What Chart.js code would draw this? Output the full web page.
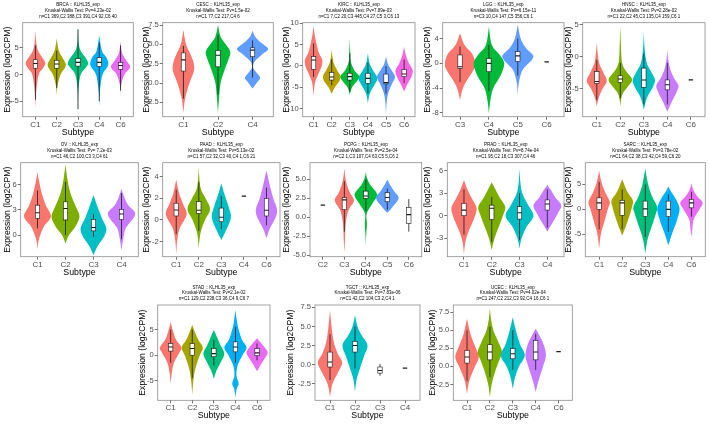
<!DOCTYPE html>
<html>
<head>
<meta charset="utf-8">
<script src="https://cdn.jsdelivr.net/npm/chart.js@4.4.0/dist/chart.umd.min.js"></script>
<style>
  html, body { margin: 0; padding: 0; background: #fff; }
  #wrap { position: relative; width: 709px; height: 425px; overflow: hidden; }
  #wrap canvas { position: absolute; }
</style>
</head>
<body>
<div id="wrap"></div>
<script>
// ---- data ----
// box = [whisker low, q1, median, q3, whisker high]; shape = [[value, width in subtype units], ...]

const brcaTitle = ["BRCA :: KLHL35_exp", "Kruskal-Wallis Test: Pv=4.23e-02", "n=C1 369,C2 388,C3 391,C4 92,C6 40"];
const brcaCats = ["C1", "C2", "C3", "C4", "C6"];
const brcaRange = [-7.9, 9.75];
const brcaTicks = [-5, 0, 5];
const brcaBox = [[-4.7, 1.2, 2.1, 2.8, 5.5], [-2.5, 1.2, 2.0, 2.7, 4.5], [-6.5, 1.6, 2.3, 3.0, 8.5], [-5, 1.5, 2.3, 3.2, 6], [-3, 1.0, 1.7, 2.3, 5.5]];
const brcaShape = [
  [[-6.1, 0], [-3, 0.08], [0, 0.3], [1.2, 0.7], [2.2, 0.92], [3.3, 0.6], [4.5, 0.25], [6, 0.08], [8.3, 0]],
  [[-3.8, 0], [-2, 0.08], [0, 0.35], [1.2, 0.75], [2, 0.85], [3, 0.6], [4.5, 0.2], [6.8, 0]],
  [[-7.2, 0], [-3, 0.04], [0, 0.25], [1.5, 0.8], [2.2, 0.95], [3.2, 0.7], [4.5, 0.25], [6, 0.06], [9, 0]],
  [[-6.3, 0], [-3, 0.06], [0, 0.3], [1.4, 0.75], [2.2, 0.85], [3.3, 0.65], [4.5, 0.25], [7.3, 0]],
  [[-4.2, 0], [-2, 0.06], [0, 0.35], [1, 0.8], [1.6, 0.9], [2.5, 0.6], [4, 0.15], [6.2, 0]],
];

const cescTitle = ["CESC :: KLHL35_exp", "Kruskal-Wallis Test: Pv=1.5e-02", "n=C1 77,C2 217,C4 6"];
const cescCats = ["C1", "C2", "C4"];
const cescRange = [-4.35, 7.8];
const cescTicks = [-2.5, 0, 2.5, 5, 7.5];
const cescBox = [[-2.0, 1.55, 3.0, 3.9, 4.8], [-1.5, 2.1, 3.6, 4.2, 6.2], [0.7, 3.4, 4.25, 4.55, 5.5]];
const cescShape = [
  [[-3.9, 0], [-2, 0.1], [0, 0.35], [1.5, 0.6], [2.5, 0.6], [3.5, 0.45], [5, 0.15], [6.85, 0]],
  [[-3.9, 0], [-2, 0.06], [0, 0.15], [1.5, 0.35], [3, 0.6], [4, 0.71], [5, 0.45], [6, 0.15], [7.5, 0]],
  [[-0.7, 0], [0.2, 0.3], [0.7, 0.44], [1.3, 0.25], [2, 0.03], [2.8, 0.12], [3.7, 0.55], [4.4, 0.9], [5.2, 0.5], [6, 0.15], [6.75, 0]],
];

const kircTitle = ["KIRC :: KLHL35_exp", "Kruskal-Wallis Test: Pv=7.89e-03", "n=C1 7,C2 20,C3 445,C4 27,C5 3,C6 13"];
const kircCats = ["C1", "C2", "C3", "C4", "C5", "C6"];
const kircRange = [-11.9, 10.15];
const kircTicks = [-10, -5, 0, 5, 10];
const kircBox = [[-2.6, -0.8, 1.4, 2.2, 5.3], [-4.5, -3.3, -2.6, -1.5, 1.6], [-6, -3.3, -2.5, -1.7, 3], [-6.5, -4.1, -2.9, -1.7, 0.8], [-6.5, -4.2, -3.9, -1.9, 0], [-4, -2.5, -1.9, -0.8, 1.5]];
const kircShape = [
  [[-7, 0], [-4, 0.15], [-2, 0.5], [0, 0.9], [1.5, 0.95], [3, 0.6], [5, 0.35], [7, 0.15], [9.4, 0]],
  [[-6.6, 0], [-5, 0.35], [-3.5, 0.85], [-2.3, 0.95], [-1, 0.6], [0.5, 0.25], [2, 0.1], [3.75, 0]],
  [[-6.8, 0], [-5, 0.25], [-3.5, 0.8], [-2.4, 1.05], [-1, 0.5], [1, 0.12], [3, 0.06], [6.5, 0]],
  [[-8.75, 0], [-6.5, 0.2], [-4.5, 0.7], [-2.9, 1.05], [-1.2, 0.6], [0.5, 0.2], [3, 0]],
  [[-11.1, 0], [-8, 0.1], [-6, 0.3], [-4, 0.7], [-2.5, 1.0], [-1, 0.6], [0.5, 0.2], [2.2, 0]],
  [[-6, 0], [-4.5, 0.3], [-2.5, 0.8], [-1, 0.95], [0.5, 0.55], [2.5, 0.2], [4.5, 0]],
];

const lggTitle = ["LGG :: KLHL35_exp", "Kruskal-Wallis Test: Pv=6.15e-11", "n=C3 10,C4 147,C5 356,C6 1"];
const lggCats = ["C3", "C4", "C5", "C6"];
const lggRange = [-8.6, 6.55];
const lggTicks = [-8, -4, 0, 4];
const lggBox = [[-3, -0.8, -0.55, 1.35, 2.7], [-4.5, -1.35, 0, 0.8, 3], [-2, 0.3, 1.2, 1.9, 4], [0.25, 0.25, 0.25, 0.25, 0.25]];
const lggShape = [
  [[-5.9, 0], [-4, 0.2], [-2.5, 0.55], [-1, 0.95], [0, 1.05], [1.5, 0.85], [3, 0.3], [4.85, 0]],
  [[-8.1, 0], [-6, 0.1], [-4, 0.3], [-2, 0.8], [0, 1.06], [1.5, 0.7], [3, 0.2], [5.9, 0]],
  [[-5.1, 0], [-3, 0.08], [-1, 0.35], [0.5, 0.95], [1.3, 1.05], [2.5, 0.55], [4, 0.2], [6.2, 0]],
  [],
];

const hnscTitle = ["HNSC :: KLHL35_exp", "Kruskal-Wallis Test: Pv=2.28e-02", "n=C1 22,C2 45,C3 135,C4 159,C6 1"];
const hnscCats = ["C1", "C2", "C3", "C4", "C6"];
const hnscRange = [-9.4, 5.3];
const hnscTicks = [-5, 0, 5];
const hnscBox = [[-6.8, -4.2, -3.9, -2.35, -0.5], [-6.5, -4.05, -3.5, -3.0, -1], [-7.5, -4.8, -3.65, -1.8, 0.5], [-7.5, -5.2, -4.4, -3.65, -1], [-3.65, -3.65, -3.65, -3.65, -3.65]];
const hnscShape = [
  [[-7.8, 0], [-6.5, 0.15], [-5, 0.5], [-3.8, 0.85], [-2.5, 0.55], [-1, 0.2], [0.5, 0.08], [2.1, 0]],
  [[-7.8, 0], [-6, 0.15], [-4.8, 0.6], [-3.6, 1.0], [-2.3, 0.5], [-1, 0.15], [1.5, 0.06], [4.8, 0]],
  [[-8.3, 0], [-6.5, 0.25], [-5, 0.7], [-3.7, 0.95], [-2.3, 0.6], [-1, 0.25], [1, 0.08], [3.9, 0]],
  [[-8.6, 0], [-7, 0.4], [-5.5, 0.8], [-4.5, 0.94], [-3.3, 0.55], [-2, 0.25], [-0.5, 0.08], [1.05, 0]],
  [],
];

const ovTitle = ["OV :: KLHL35_exp", "Kruskal-Wallis Test: Pv= 7.2e-03", "n=C1 46,C2 100,C3 3,C4 61"];
const ovCats = ["C1", "C2", "C3", "C4"];
const ovRange = [-2.57, 8.6];
const ovTicks = [0, 3, 6];
const ovBox = [[0.8, 2.0, 2.65, 3.55, 5.3], [0, 1.8, 3.15, 3.95, 6.3], [-0.2, 0.5, 0.9, 1.85, 2.5], [-0.5, 1.85, 2.5, 3.05, 5]];
const ovShape = [
  [[-1.7, 0], [-0.5, 0.1], [1, 0.45], [2.2, 0.96], [3.5, 0.6], [5, 0.3], [6.5, 0.1], [7.5, 0]],
  [[-1, 0], [0, 0.25], [1, 0.7], [2.2, 1.0], [3.5, 0.7], [5, 0.35], [6.5, 0.15], [8.4, 0]],
  [[-2.4, 0], [-1.3, 0.3], [-0.2, 0.75], [0.8, 0.92], [2, 0.6], [3.3, 0.3], [4.75, 0]],
  [[-1.8, 0], [-0.5, 0.12], [0.8, 0.3], [2, 0.85], [2.7, 0.96], [3.5, 0.5], [4.5, 0.2], [5.5, 0]],
];

const paadTitle = ["PAAD :: KLHL35_exp", "Kruskal-Wallis Test: Pv=5.13e-02", "n=C1 57,C2 32,C3 40,C4 1,C6 21"];
const paadCats = ["C1", "C2", "C3", "C4", "C6"];
const paadRange = [-3.4, 5.3];
const paadTicks = [-2, 0, 2, 4];
const paadBox = [[-1.3, 0.37, 0.92, 1.55, 2.8], [-1, 0.6, 0.9, 1.7, 3.5], [-0.85, -0.15, 0.25, 1.1, 2.2], [2.2, 2.2, 2.2, 2.2, 2.2], [-0.5, 0.37, 0.9, 2.0, 3.0]];
const paadShape = [
  [[-3.2, 0], [-2, 0.08], [-0.8, 0.3], [0.5, 0.92], [1.5, 0.6], [2.5, 0.25], [3.75, 0]],
  [[-2.6, 0], [-1.2, 0.15], [0, 0.55], [1, 1.0], [2, 0.6], [3, 0.15], [4.8, 0]],
  [[-1.85, 0], [-1, 0.4], [0.2, 0.85], [1.2, 0.65], [2.3, 0.3], [3.4, 0]],
  [],
  [[-1.7, 0], [-0.8, 0.3], [0.7, 0.94], [2, 0.6], [3.2, 0.3], [4.6, 0]],
];

const pcpgTitle = ["PCPG :: KLHL35_exp", "Kruskal-Wallis Test: Pv=2.5e-04", "n=C2 1,C3 107,C4 63,C5 5,C6 2"];
const pcpgCats = ["C2", "C3", "C4", "C5", "C6"];
const pcpgRange = [-5.2, 7.2];
const pcpgTicks = [-5, -2.5, 0, 2.5, 5];
const pcpgBox = [[1.6, 1.6, 1.6, 1.6, 1.6], [-1.9, 1.0, 2.3, 2.6, 4.75], [0.8, 2.5, 2.8, 3.45, 5], [1, 2.05, 2.6, 3.25, 3.8], [-1.9, -0.8, 0.35, 1.3, 2.4]];
const pcpgShape = [
  [],
  [[-4.65, 0], [-3, 0.06], [-1, 0.12], [0.8, 0.35], [2.2, 0.89], [3.3, 0.5], [4.8, 0.15], [6.45, 0]],
  [[-4, 0], [-2.5, 0.03], [-0.9, 0.1], [0.5, 0.08], [1.8, 0.6], [3, 1.05], [4.3, 0.4], [5.2, 0.1], [6, 0]],
  [[0.6, 0], [1.3, 0.45], [2.5, 1.05], [3.5, 0.6], [4.3, 0.25], [4.95, 0]],
  [],
];

const pradTitle = ["PRAD :: KLHL35_exp", "Kruskal-Wallis Test: Pv=8.74e-04", "n=C1 95,C2 18,C3 307,C4 46"];
const pradCats = ["C1", "C2", "C3", "C4"];
const pradRange = [-5.45, 7.05];
const pradTicks = [-3, 0, 3, 6];
const pradBox = [[-2.5, 0, 0.75, 1.65, 3.5], [-3.5, -0.5, 1.0, 1.4, 2.5], [-3.2, -0.45, 0.4, 1.2, 3], [-1.6, 0.75, 1.55, 2.1, 3.5]];
const pradShape = [
  [[-5.2, 0], [-3.5, 0.1], [-2, 0.35], [-0.5, 0.7], [1, 0.91], [2.2, 0.6], [3.5, 0.25], [4.75, 0]],
  [[-4.55, 0], [-3, 0.2], [-1.5, 0.5], [0, 0.8], [1.2, 0.97], [2.5, 0.55], [4.45, 0]],
  [[-4.35, 0], [-3, 0.15], [-1.5, 0.5], [0, 1.0], [1.5, 0.6], [3, 0.2], [4.5, 0.06], [6.3, 0]],
  [[-2.1, 0], [-1, 0.35], [0.3, 0.75], [1.4, 1.0], [2.5, 0.55], [3.3, 0.3], [4.1, 0]],
];

const sarcTitle = ["SARC :: KLHL35_exp", "Kruskal-Wallis Test: Pv=3.78e-02", "n=C1 64,C2 38,C3 42,C4 59,C6 20"];
const sarcCats = ["C1", "C2", "C3", "C4", "C6"];
const sarcRange = [-9.5, 9.35];
const sarcTicks = [-5, 0, 5];
const sarcBox = [[-4, 0, 1.3, 2.3, 5.5], [-4, -1.2, 1.3, 1.8, 4], [-5.5, -1.45, 0.1, 1.65, 5], [-4.5, -1.45, 0, 1.65, 3], [-1.5, 0.3, 1.3, 2.0, 3.5]];
const sarcShape = [
  [[-7.9, 0], [-5, 0.15], [-2.5, 0.45], [0, 0.75], [1.5, 0.92], [3.5, 0.5], [5.5, 0.2], [7.75, 0]],
  [[-5.25, 0], [-3.5, 0.3], [-1.5, 0.6], [0.5, 0.85], [1.8, 0.92], [3.5, 0.45], [6.05, 0]],
  [[-8.9, 0], [-6, 0.2], [-3.5, 0.55], [-1, 0.9], [0.5, 1.03], [2.5, 0.6], [5, 0.25], [8.2, 0]],
  [[-7.25, 0], [-5, 0.3], [-2.5, 0.7], [0, 0.97], [1.8, 0.7], [3.3, 0.3], [4.6, 0]],
  [[-5.6, 0], [-4, 0.08], [-2, 0.2], [0, 0.7], [1.3, 0.97], [2.6, 0.5], [4, 0.15], [5.25, 0]],
];

const stadTitle = ["STAD :: KLHL35_exp", "Kruskal-Wallis Test: Pv=2.1e-02", "n=C1 129,C2 238,C3 36,C4 9,C6 7"];
const stadCats = ["C1", "C2", "C3", "C4", "C6"];
const stadRange = [-8.8, 9.8];
const stadTicks = [-5, 0, 5];
const stadBox = [[-1.5, 0.8, 1.6, 2.3, 5], [-4.5, 0, 1.3, 2.3, 5], [-2, -0.3, 0.3, 1.3, 3], [-1.5, 0.65, 1.6, 2.6, 5.5], [-1, -0.1, 0.45, 1.3, 2.3]];
const stadShape = [
  [[-5.55, 0], [-3.5, 0.1], [-1.5, 0.3], [0.5, 0.8], [1.5, 1.0], [3, 0.5], [4.8, 0.2], [6.5, 0]],
  [[-7.85, 0], [-5, 0.1], [-2.5, 0.3], [0, 0.7], [1.5, 0.98], [3, 0.55], [4.5, 0.25], [5.9, 0]],
  [[-4.6, 0], [-3, 0.25], [-1.5, 0.6], [0.3, 0.97], [2, 0.6], [3.5, 0.3], [4.9, 0]],
  [[-8.2, 0], [-6.5, 0.12], [-5.5, 0.3], [-4, 0.1], [-2, 0.2], [0, 0.65], [1.5, 1.03], [3, 0.6], [5, 0.3], [6.5, 0.15], [8.8, 0]],
  [[-3.15, 0], [-2, 0.3], [-0.5, 0.75], [0.6, 0.98], [1.8, 0.6], [3.3, 0]],
];

const tgctTitle = ["TGCT :: KLHL35_exp", "Kruskal-Wallis Test: Pv=7.83e-06", "n=C1 42,C2 104,C3 2,C4 1"];
const tgctCats = ["C1", "C2", "C3", "C4"];
const tgctRange = [-4.65, 7.8];
const tgctTicks = [-2.5, 0, 2.5, 5, 7.5];
const tgctBox = [[-2, -0.3, 0.35, 1.65, 4], [-0.5, 1.65, 2.5, 3.05, 5], [-1.45, -1.1, -0.75, -0.3, 0.1], [-0.45, -0.45, -0.45, -0.45, -0.45]];
const tgctShape = [
  [[-4.2, 0], [-2.5, 0.2], [-1, 0.65], [0.3, 0.97], [1.5, 0.6], [3, 0.3], [5, 0.12], [7.1, 0]],
  [[-3.55, 0], [-2, 0.12], [-0.5, 0.4], [1, 0.7], [2.5, 1.0], [3.8, 0.55], [5, 0.2], [6.45, 0]],
  [],
  [],
];

const ucecTitle = ["UCEC :: KLHL35_exp", "Kruskal-Wallis Test: Pv=4.02e-04", "n=C1 247,C2 212,C3 92,C4 16,C6 1"];
const ucecCats = ["C1", "C2", "C3", "C4", "C6"];
const ucecRange = [-4.7, 8.5];
const ucecTicks = [-2.5, 0, 2.5, 5, 7.5];
const ucecBox = [[-2, 0.45, 1.3, 2.2, 5], [-1.5, 0.9, 2.0, 3.0, 5.5], [-0.5, 1.05, 1.75, 2.45, 5], [-0.5, 0.9, 2.0, 3.6, 4.5], [2.05, 2.05, 2.05, 2.05, 2.05]];
const ucecShape = [
  [[-3.8, 0], [-2, 0.2], [0, 0.7], [1.3, 1.03], [2.8, 0.7], [4.5, 0.3], [6.6, 0]],
  [[-4.25, 0], [-2.5, 0.15], [-0.5, 0.5], [1, 0.85], [2, 1.06], [3.5, 0.7], [5, 0.3], [6.5, 0.1], [8, 0]],
  [[-3.1, 0], [-1.5, 0.2], [0, 0.55], [1.5, 1.05], [3, 0.65], [4.8, 0.3], [6.8, 0]],
  [[-3.55, 0], [-2, 0.25], [0, 0.65], [1.5, 0.9], [3, 0.7], [4.2, 0.35], [5.2, 0]],
  [],
];

// ---- colours (ggplot hue palettes) ----
const hue2 = ["#F8766D", "#00BFC4"];
const hue3 = ["#F8766D", "#00BA38", "#619CFF"];
const hue4 = ["#F8766D", "#7CAE00", "#00BFC4", "#C77CFF"];
const hue5 = ["#F8766D", "#A3A500", "#00BF7D", "#00B0F6", "#E76BF3"];
const hue6 = ["#F8766D", "#B79F00", "#00BA38", "#00BFC4", "#619CFF", "#F564E3"];

// ---- layout: rows, then [row, y-label centre x, plot left, plot right] ----
const rows = [
  { top: 0, height: 141, plotTop: 22.7, plotBottom: 116.7 },
  { top: 140, height: 141, plotTop: 162.7, plotBottom: 256.7 },
  { top: 282, height: 143, plotTop: 305, plotBottom: 400.3 },
];

const panels = [
  { title: brcaTitle, cats: brcaCats, range: brcaRange, ticks: brcaTicks, box: brcaBox, shape: brcaShape, colors: hue5, frame: [0, 6.7, 22.7, 133.3] },
  { title: cescTitle, cats: cescCats, range: cescRange, ticks: cescTicks, box: cescBox, shape: cescShape, colors: hue3, frame: [0, 145.8, 162.7, 273.3] },
  { title: kircTitle, cats: kircCats, range: kircRange, ticks: kircTicks, box: kircBox, shape: kircShape, colors: hue6, frame: [0, 286, 302.7, 415] },
  { title: lggTitle, cats: lggCats, range: lggRange, ticks: lggTicks, box: lggBox, shape: lggShape, colors: hue3, frame: [0, 426.7, 442.7, 564] },
  { title: hnscTitle, cats: hnscCats, range: hnscRange, ticks: hnscTicks, box: hnscBox, shape: hnscShape, colors: hue4, frame: [0, 568, 582.7, 705] },
  { title: ovTitle, cats: ovCats, range: ovRange, ticks: ovTicks, box: ovBox, shape: ovShape, colors: hue4, frame: [1, 6.7, 20.7, 138.3] },
  { title: paadTitle, cats: paadCats, range: paadRange, ticks: paadTicks, box: paadBox, shape: paadShape, colors: [hue4[0], hue4[1], hue4[2], null, hue4[3]], frame: [1, 146, 162.7, 280] },
  { title: pcpgTitle, cats: pcpgCats, range: pcpgRange, ticks: pcpgTicks, box: pcpgBox, shape: pcpgShape, colors: [null, ...hue3, null], frame: [1, 286, 310, 421.7] },
  { title: pradTitle, cats: pradCats, range: pradRange, ticks: pradTicks, box: pradBox, shape: pradShape, colors: hue4, frame: [1, 426.7, 447.3, 564] },
  { title: sarcTitle, cats: sarcCats, range: sarcRange, ticks: sarcTicks, box: sarcBox, shape: sarcShape, colors: hue5, frame: [1, 568, 585.3, 705.3] },
  { title: stadTitle, cats: stadCats, range: stadRange, ticks: stadTicks, box: stadBox, shape: stadShape, colors: hue5, frame: [2, 141.7, 157.7, 270] },
  { title: tgctTitle, cats: tgctCats, range: tgctRange, ticks: tgctTicks, box: tgctBox, shape: tgctShape, colors: hue2, frame: [2, 290, 315, 420] },
  { title: ucecTitle, cats: ucecCats, range: ucecRange, ticks: ucecTicks, box: ucecBox, shape: ucecShape, colors: hue4, frame: [2, 432.3, 453.3, 572.3] },
];

Chart.defaults.font.family = "'Liberation Sans', Arial, sans-serif";

// catmull-rom through the outline points
function spline(ctx, pts, move) {
  if (move) ctx.moveTo(pts[0][0], pts[0][1]);
  else ctx.lineTo(pts[0][0], pts[0][1]);
  for (let i = 0; i < pts.length - 1; i++) {
    const p0 = pts[i - 1] || pts[i], p1 = pts[i], p2 = pts[i + 1], p3 = pts[i + 2] || p2;
    ctx.bezierCurveTo(
      p1[0] + (p2[0] - p0[0]) / 6, p1[1] + (p2[1] - p0[1]) / 6,
      p2[0] - (p3[0] - p1[0]) / 6, p2[1] - (p3[1] - p1[1]) / 6,
      p2[0], p2[1]
    );
  }
}

function violinLayer(p) {
  return {
    id: "violins",
    beforeDatasetsDraw(chart) {
      const { ctx, chartArea: a, scales: { x, y } } = chart;
      const unit = x.getPixelForValue(2) - x.getPixelForValue(1);
      const bw = 4.4;
      ctx.save();
      ctx.beginPath();
      ctx.rect(a.left, a.top, a.right - a.left, a.bottom - a.top);
      ctx.clip();

      p.shape.forEach((s, i) => {
        const cx = x.getPixelForValue(i + 1);
        if (s.length && p.colors[i]) {
          const right = s.map(([v, w]) => [cx + (w * unit) / 2, y.getPixelForValue(v)]);
          const left = right.slice().reverse().map(([px, py]) => [2 * cx - px, py]);
          ctx.beginPath();
          spline(ctx, right, true);
          spline(ctx, left, false);
          ctx.closePath();
          ctx.fillStyle = p.colors[i];
          ctx.fill();
        }

        const [lo, q1, md, q3, hi] = p.box[i].map((v) => y.getPixelForValue(v));
        ctx.strokeStyle = "#1a1a1a";
        if (lo === hi) {
          ctx.lineWidth = 1.2;
          ctx.beginPath();
          ctx.moveTo(cx - bw / 2, md);
          ctx.lineTo(cx + bw / 2, md);
          ctx.stroke();
          return;
        }
        ctx.lineWidth = 0.8;
        ctx.beginPath();
        ctx.moveTo(cx, lo);
        ctx.lineTo(cx, hi);
        ctx.stroke();
        ctx.fillStyle = "#fff";
        ctx.lineWidth = 0.6;
        ctx.fillRect(cx - bw / 2, q3, bw, q1 - q3);
        ctx.strokeRect(cx - bw / 2, q3, bw, q1 - q3);
        ctx.lineWidth = 1.1;
        ctx.beginPath();
        ctx.moveTo(cx - bw / 2, md);
        ctx.lineTo(cx + bw / 2, md);
        ctx.stroke();
      });
      ctx.restore();
    },
    afterDraw(chart) {
      const { ctx, chartArea: a } = chart;
      ctx.save();
      ctx.strokeStyle = "#8c8c8c";
      ctx.lineWidth = 0.8;
      ctx.strokeRect(a.left, a.top, a.right - a.left, a.bottom - a.top);
      ctx.restore();
    },
  };
}

const wrap = document.getElementById("wrap");

function drawPanel(p) {
  const [r, lc, pl, pr] = p.frame;
  const row = rows[r];
  const L = Math.round(lc - 6.2);
  const W = Math.min(709 - L, Math.round(pr + 2 - L));
  const titleLh = 4.5 * 1.3;
  const dec = p.ticks.some((t) => t % 1 !== 0) ? 1 : 0;

  const canvas = document.createElement("canvas");
  canvas.width = W;
  canvas.height = row.height;
  canvas.style.left = L + "px";
  canvas.style.top = row.top + "px";
  wrap.appendChild(canvas);

  new Chart(canvas, {
    type: "scatter",
    data: {
      datasets: [{ data: p.box.map((b, i) => ({ x: i + 1, y: b[2] })), pointRadius: 0 }],
    },
    options: {
      responsive: false,
      animation: false,
      events: [],
      layout: {
        padding: {
          left: 0,
          top: 0,
          right: W - (pr - L),
          bottom: row.height - (row.plotBottom - row.top) - 21,
        },
      },
      plugins: {
        legend: { display: false },
        tooltip: { enabled: false },
        title: {
          display: true,
          text: p.title,
          fullSize: false,
          color: "#000",
          font: { size: 4.5, lineHeight: 1.3, weight: "normal" },
          padding: { top: row.plotTop - row.top - 3 * titleLh - 3, bottom: 3 },
        },
      },
      scales: {
        x: {
          type: "linear",
          min: 0.4,
          max: p.cats.length + 0.6,
          afterBuildTicks: (ax) => {
            ax.ticks = p.cats.map((c, i) => ({ value: i + 1 }));
          },
          afterFit: (ax) => {
            ax.height = 21;
          },
          ticks: {
            callback: (v) => p.cats[v - 1],
            autoSkip: false,
            maxRotation: 0,
            padding: 0,
            color: "#4d4d4d",
            font: { size: 8 },
          },
          grid: { drawOnChartArea: false, tickLength: 3, color: "#333", lineWidth: 0.7 },
          border: { display: false },
          title: { display: true, text: "Subtype", color: "#000", font: { size: 8.8 }, padding: 0 },
        },
        y: {
          min: p.range[0],
          max: p.range[1],
          afterBuildTicks: (ax) => {
            ax.ticks = p.ticks.map((t) => ({ value: t }));
          },
          afterFit: (ax) => {
            ax.width = pl - L;
          },
          ticks: {
            callback: (v) => v.toFixed(dec),
            padding: 1,
            color: "#4d4d4d",
            font: { size: 7.6 },
          },
          grid: { drawOnChartArea: false, tickLength: 3, color: "#333", lineWidth: 0.7 },
          border: { display: false },
          title: { display: true, text: "Expression (log2CPM)", color: "#000", font: { size: 8.6 }, padding: 1 },
        },
      },
    },
    plugins: [violinLayer(p)],
  });
}

panels.forEach(drawPanel);
</script>
</body>
</html>
